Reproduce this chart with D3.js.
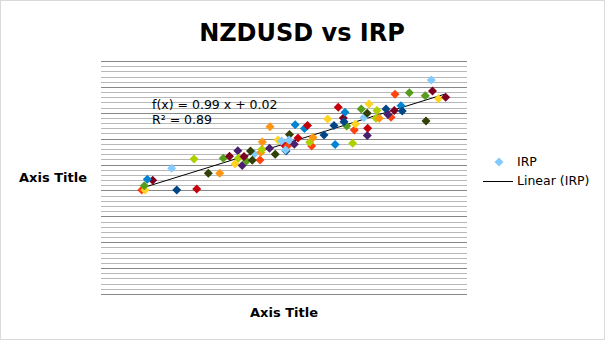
<!DOCTYPE html>
<html>
<head>
<meta charset="utf-8">
<script src="https://cdn.jsdelivr.net/npm/d3@7"></script>
<style>
  body { margin: 0; background: #fff; }
  svg { display: block; font-family: "DejaVu Sans", sans-serif; }
</style>
</head>
<body>
<div id="chart"></div>
<script>
// NZDUSD (x) against IRP (y); points listed in colour-cycle order
let irpX = [
    0.4353, 0.3929, 0.3969, 0.3961, 0.4062, 0.4292, 0.4735, 0.4562, 0.5092, 0.4873, 0.4595, 0.3997,
    0.5675, 0.5360, 0.5058, 0.4916, 0.4991, 0.5294, 0.5245, 0.5098, 0.5145, 0.5370, 0.5659, 0.5786,
    0.6134, 0.5693, 0.5578, 0.5197, 0.5167, 0.5620, 0.5267, 0.5384, 0.5475, 0.5388, 0.5820, 0.5898,
    0.6255, 0.5985, 0.6179, 0.6409, 0.6368, 0.6618, 0.5717, 0.5961, 0.5775, 0.5481, 0.5935, 0.6270,
    0.6376, 0.6501, 0.6515, 0.6585, 0.6985, 0.7432, 0.6657, 0.6481, 0.6658, 0.6001, 0.6307, 0.6388,
    0.6884, 0.6945, 0.6679, 0.7166, 0.7447, 0.5669, 0.7368, 0.6763, 0.6908, 0.6803, 0.6663, 0.7066,
    0.7081, 0.6993, 0.7519, 0.7359, 0.7606, 0.5711, 0.5545, 0.6775
];
let irpY = [
    0.4017, 0.4017, 0.4017, 0.4183, 0.4392, 0.4855, 0.4662, 0.5214, 0.5535, 0.4662, 0.4056, 0.4430,
    0.5523, 0.5176, 0.5021, 0.5241, 0.5319, 0.5408, 0.5523, 0.5241, 0.4963, 0.5465, 0.5736, 0.6539,
    0.6141, 0.5717, 0.5948, 0.5137, 0.5311, 0.5910, 0.5164, 0.5589, 0.5628, 0.5871, 0.6026, 0.6392,
    0.6508, 0.5717, 0.6759, 0.6489, 0.6798, 0.6817, 0.6161, 0.5859, 0.5782, 0.6462, 0.6508, 0.5774,
    0.6655, 0.6335, 0.6566, 0.7146, 0.7088, 0.8266, 0.6980, 0.5821, 0.6122, 0.6045, 0.7211, 0.7018,
    0.7146, 0.6825, 0.7339, 0.7775, 0.7841, 0.5562, 0.6682, 0.6786, 0.6933, 0.6786, 0.6404, 0.7273,
    0.7068, 0.7713, 0.7543, 0.7659, 0.7598, 0.5948, 0.5396, 0.7088
];

// linear trendline as printed on the chart
let trendSlope = 0.99;
let trendIntercept = 0.02;
let trendLabel = ["f(x) = 0.99 x + 0.02", "R\u00b2 = 0.89"];

let chartTitle = "NZDUSD vs IRP";
let xTitle = "Axis Title";
let yTitle = "Axis Title";
let legendLabels = ["IRP", "Linear (IRP)"];

// axis ranges (no tick labels are shown)
let xDomain = [0.3437, 0.7864];
let yDomain = [0, 0.9];

let palette = ["#004586", "#ff420e", "#ffd320", "#579d1c", "#7e0021", "#83caff",
               "#314004", "#aecf00", "#4b1f6f", "#ff950e", "#c5000b", "#0084d1"];

let width = 605, height = 340;
let plot = {left: 101, right: 467, top: 61, bottom: 294};

let svg = d3.select("#chart").append("svg")
    .attr("width", width)
    .attr("height", height);

svg.append("rect")
    .attr("x", 0.5).attr("y", 0.5)
    .attr("width", width - 1).attr("height", height - 1)
    .attr("fill", "#fff")
    .attr("stroke", "#d9d9d9");

let x = d3.scaleLinear().domain(xDomain).range([plot.left, plot.right]);
let y = d3.scaleLinear().domain(yDomain).range([plot.bottom, plot.top]);

// horizontal grid: major every 0.1, minor every 0.02
let minorTicks = d3.ticks(yDomain[0], yDomain[1], 45);
svg.append("g").selectAll("line")
    .data(minorTicks)
    .join("line")
    .attr("x1", plot.left)
    .attr("x2", plot.right)
    .attr("y1", d => Math.round(y(d)) + 0.5)
    .attr("y2", d => Math.round(y(d)) + 0.5)
    .attr("stroke", d => Math.round(d * 50) % 5 === 0 ? "#878787" : "#b8b8b8")
    .attr("stroke-width", 1);

// trendline across the data range
let xExtent = d3.extent(irpX);
svg.append("line")
    .attr("x1", x(xExtent[0]))
    .attr("y1", y(trendSlope * xExtent[0] + trendIntercept))
    .attr("x2", x(xExtent[1]))
    .attr("y2", y(trendSlope * xExtent[1] + trendIntercept))
    .attr("stroke", "#000")
    .attr("stroke-width", 1);

let diamond = "M0,-4.5L4.5,0L0,4.5L-4.5,0Z";

svg.append("g").selectAll("path")
    .data(irpX.map((v, i) => ({x: v, y: irpY[i], i: i})))
    .join("path")
    .attr("d", diamond)
    .attr("transform", d => "translate(" + x(d.x) + "," + y(d.y) + ")")
    .attr("fill", d => palette[d.i % palette.length]);

// trendline equation
svg.append("g").selectAll("text")
    .data(trendLabel)
    .join("text")
    .attr("x", 152)
    .attr("y", (d, i) => 109 + i * 14.5)
    .style("font-size", "12.5px")
    .attr("fill", "#000")
    .text(d => d);

// titles
svg.append("text")
    .attr("x", 302)
    .attr("y", 41)
    .attr("text-anchor", "middle")
    .style("font-size", "24px")
    .style("font-weight", "bold")
    .text(chartTitle);

svg.append("text")
    .attr("x", 284)
    .attr("y", 317)
    .attr("text-anchor", "middle")
    .style("font-size", "13px")
    .style("font-weight", "bold")
    .text(xTitle);

svg.append("text")
    .attr("x", 53)
    .attr("y", 182)
    .attr("text-anchor", "middle")
    .style("font-size", "13px")
    .style("font-weight", "bold")
    .text(yTitle);

// legend
let legend = svg.append("g");
legend.append("path")
    .attr("d", diamond)
    .attr("transform", "translate(499,162)")
    .attr("fill", palette[5]);
legend.append("text")
    .attr("x", 517).attr("y", 166)
    .style("font-size", "12.5px")
    .text(legendLabels[0]);
legend.append("line")
    .attr("x1", 483).attr("x2", 513)
    .attr("y1", 181.5).attr("y2", 181.5)
    .attr("stroke", "#000");
legend.append("text")
    .attr("x", 517).attr("y", 185)
    .style("font-size", "12.5px")
    .text(legendLabels[1]);
</script>
</body>
</html>
